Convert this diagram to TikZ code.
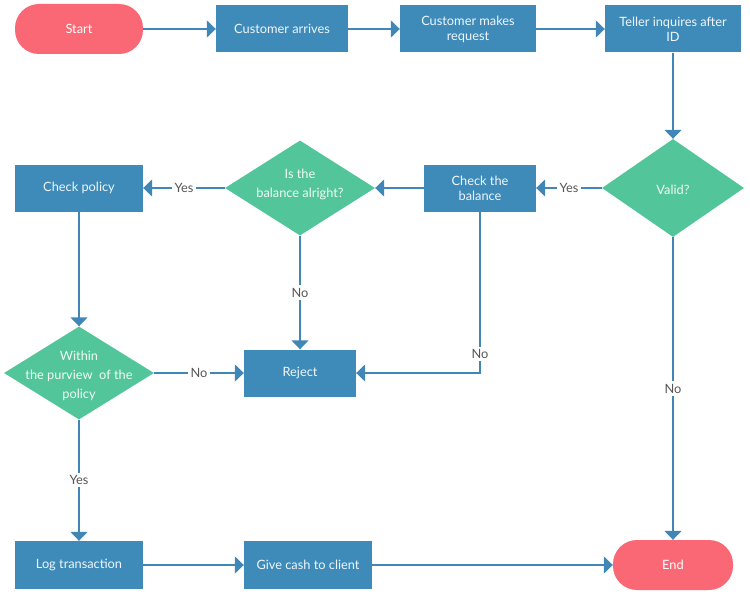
\documentclass[tikz,border=0pt]{standalone}
\usepackage{fontspec}
\setmainfont{Lato}
\usetikzlibrary{shapes.geometric,arrows.meta}
\definecolor{boxblue}{RGB}{62,139,185}
\definecolor{flowblue}{RGB}{64,134,182}
\definecolor{endred}{RGB}{249,104,116}
\definecolor{askgreen}{RGB}{82,198,154}
\definecolor{notegrey}{RGB}{85,85,85}
\tikzset{
	proc/.style={rectangle,fill=boxblue,text=white!92!boxblue,minimum width=#1,minimum height=47pt,align=center,inner sep=2pt},
	proc/.default=130pt,
	term/.style={rectangle,rounded corners=24pt,fill=endred,text=white,minimum width=#1,minimum height=50pt},
	term/.default=128pt,
	ask/.style 2 args={diamond,fill=askgreen,inner sep=0pt,minimum width=#1,minimum height=#2},
	asktext/.style={text=white!92!askgreen,align=center,font=\fontsize{12.8}{19}\selectfont},
	flow/.style={draw=flowblue,line width=1.4pt,-{Triangle[length=9pt,width=17pt]}},
	note/.style={fill=white,text=notegrey,inner sep=2.5pt}
}

\begin{document}
\begin{tikzpicture}[x=1pt,y=-1pt,font=\fontsize{12.8}{15}\selectfont]
		\useasboundingbox (0,0) rectangle (750,594);
		% top row
		\node[term] (start) at (79,29) {Start};
		\node[proc=132pt] (arrive) at (282,29) {Customer arrives};
		\node[proc=136pt] (request) at (468,29) {Customer makes\\request};
		\node[proc=136pt] (teller) at (673,29) {Teller inquires after\\ID};
		% second row
		\node[ask={142pt}{98pt},label={[asktext,yshift=-2pt]center:Valid?}] (valid) at (673,188) {};
		\node[proc=112pt] (balance) at (480,188) {Check the\\balance};
		\node[ask={150pt}{95pt},label={[asktext,yshift=4pt]center:Is the\\balance\ alright?}] (alright) at (300,188) {};
		\node[proc=128pt] (policy) at (79,188) {Check policy};
		% third row
		\node[ask={150pt}{93pt},label={[asktext,yshift=-3pt]center:Within\\the purview\ \ of the\\policy}] (purview) at (79,373) {};
		\node[proc=112pt] (reject) at (300,373) {Reject};
		% bottom row
		\node[proc=128pt,minimum height=48pt] (log) at (79,565) {Log transaction};
		\node[proc=128pt,minimum height=48pt] (cash) at (308,565) {Give cash to client};
		\node[term=120pt] (end) at (673,565) {End};
		% connectors
		\draw[flow] (start) -- (arrive);
		\draw[flow] (arrive) -- (request);
		\draw[flow] (request) -- (teller);
		\draw[flow] (teller) -- (valid);
		\draw[flow] (valid) -- node[note] {Yes} (balance);
		\draw[flow] (valid) -- node[note] {No} (end);
		\draw[flow] (balance) -- (alright);
		\draw[flow] (balance) |- node[note,pos=0.44] {No} (reject);
		\draw[flow] (alright) -- node[note] {Yes} (policy);
		\draw[flow] (alright) -- node[note] {No} (reject);
		\draw[flow] (policy) -- (purview);
		\draw[flow] (purview) -- node[note] {No} (reject);
		\draw[flow] (purview) -- node[note] {Yes} (log);
		\draw[flow] (log) -- (cash);
		\draw[flow] (cash) -- (end);
\end{tikzpicture}
\end{document}
